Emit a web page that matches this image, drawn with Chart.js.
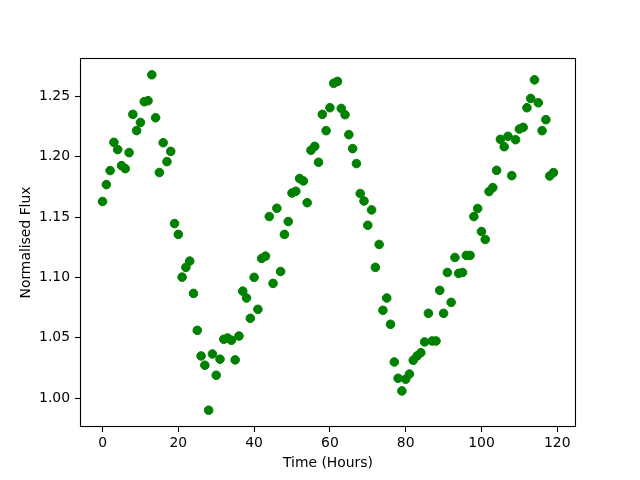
<!DOCTYPE html>
<html>
<head>
<meta charset="utf-8">
<script src="https://cdn.jsdelivr.net/npm/chart.js@4"></script>
<style>
html,body{margin:0;padding:0;background:#fff;}
#wrap{width:640px;height:480px;position:relative;}
</style>
</head>
<body>
<div id="wrap"><canvas id="c" width="640" height="480"></canvas></div>
<script>
const hours = [];
for (let i = 0; i < 120; i++) hours.push(i);
const flux = [
1.163,1.177,1.1886,1.212,1.206,1.1927,1.1902,1.2035,1.2352,1.2217,
1.2285,1.2457,1.2465,1.268,1.2324,1.187,1.2117,1.196,1.2045,1.1447,
1.1357,1.1003,1.1084,1.1136,1.0868,1.0562,1.035,1.0273,0.990,1.0366,
1.019,1.0323,1.0488,1.0499,1.048,1.0317,1.0515,1.0887,1.083,1.0662,
1.1001,1.0736,1.1158,1.1177,1.1505,1.0951,1.1574,1.105,1.1357,1.1464,
1.170,1.1715,1.182,1.180,1.162,1.2054,1.2087,1.1955,1.2352,1.2217,
1.2407,1.261,1.2625,1.2401,1.2349,1.2184,1.2068,1.1944,1.1696,1.1634,
1.1433,1.156,1.1084,1.1274,1.0728,1.083,1.0612,1.030,1.0165,1.006,
1.0157,1.020,1.0314,1.035,1.0377,1.0466,1.0703,1.0474,1.0474,1.0893,
1.0703,1.1042,1.0794,1.1166,1.1034,1.1042,1.1183,1.1183,1.1505,1.1572,
1.1381,1.1315,1.1712,1.1745,1.1888,1.2145,1.2084,1.217,1.1844,1.2142,
1.223,1.2244,1.2407,1.2484,1.2638,1.2448,1.2217,1.2308,1.1841,1.1869
];
const xTicks = [0, 20, 40, 60, 80, 100, 120];
const yTicks = [1.00, 1.05, 1.10, 1.15, 1.20, 1.25];
const xTitle = 'Time (Hours)';
const yTitle = 'Normalised Flux';

const points = hours.map((h, i) => ({x: h, y: flux[i]}));
const xMinD = Math.min(...hours), xMaxD = Math.max(...hours);
const yMinD = Math.min(...flux), yMaxD = Math.max(...flux);
const xm = (xMaxD - xMinD) * 0.05, ym = (yMaxD - yMinD) * 0.05;

const font = {family: 'DejaVu Sans', size: 13.9};

const frame = {
  id: 'frame',
  afterDatasetsDraw(chart) {
    const a = chart.chartArea, ctx = chart.ctx;
    ctx.save();
    ctx.strokeStyle = '#000';
    ctx.lineWidth = 1.1;
    ctx.strokeRect(Math.round(a.left) + 0.5, Math.round(a.top) + 0.5,
                   Math.round(a.right - a.left) - 1, Math.round(a.bottom - a.top) - 1);
    ctx.restore();
  }
};

new Chart(document.getElementById('c'), {
  type: 'scatter',
  data: {
    datasets: [{
      data: points,
      pointRadius: 4.3,
      pointBorderWidth: 1,
      pointBackgroundColor: '#008000',
      pointBorderColor: '#008000'
    }]
  },
  options: {
    responsive: false,
    animation: false,
    events: [],
    layout: {padding: {top: 58, right: 64, left: 0, bottom: 0}},
    plugins: {legend: {display: false}, tooltip: {enabled: false}, title: {display: false}},
    scales: {
      x: {
        type: 'linear',
        min: xMinD - xm,
        max: xMaxD + xm,
        afterBuildTicks: (s) => { s.ticks = xTicks.map(v => ({value: v})); },
        afterFit: (s) => { s.height = 53; },
        ticks: {color: '#000', font: font, padding: 3, maxRotation: 0, autoSkip: false,
                callback: (v) => String(v)},
        grid: {drawOnChartArea: false, drawTicks: true, tickLength: 5, color: '#000', tickWidth: 1.1},
        border: {display: false},
        title: {display: true, text: xTitle, color: '#000', font: font, padding: {top: 0, bottom: 8}}
      },
      y: {
        type: 'linear',
        min: yMinD - ym,
        max: yMaxD + ym,
        afterBuildTicks: (s) => { s.ticks = yTicks.map(v => ({value: v})); },
        afterFit: (s) => { s.width = 80; },
        ticks: {color: '#000', font: font, padding: 5, autoSkip: false,
                callback: (v) => Number(v).toFixed(2)},
        grid: {drawOnChartArea: false, drawTicks: true, tickLength: 5, color: '#000', tickWidth: 1.1},
        border: {display: false},
        title: {display: true, text: yTitle, color: '#000', font: font, padding: {top: 18, bottom: 0}}
      }
    }
  },
  plugins: [frame]
});
</script>
</body>
</html>
